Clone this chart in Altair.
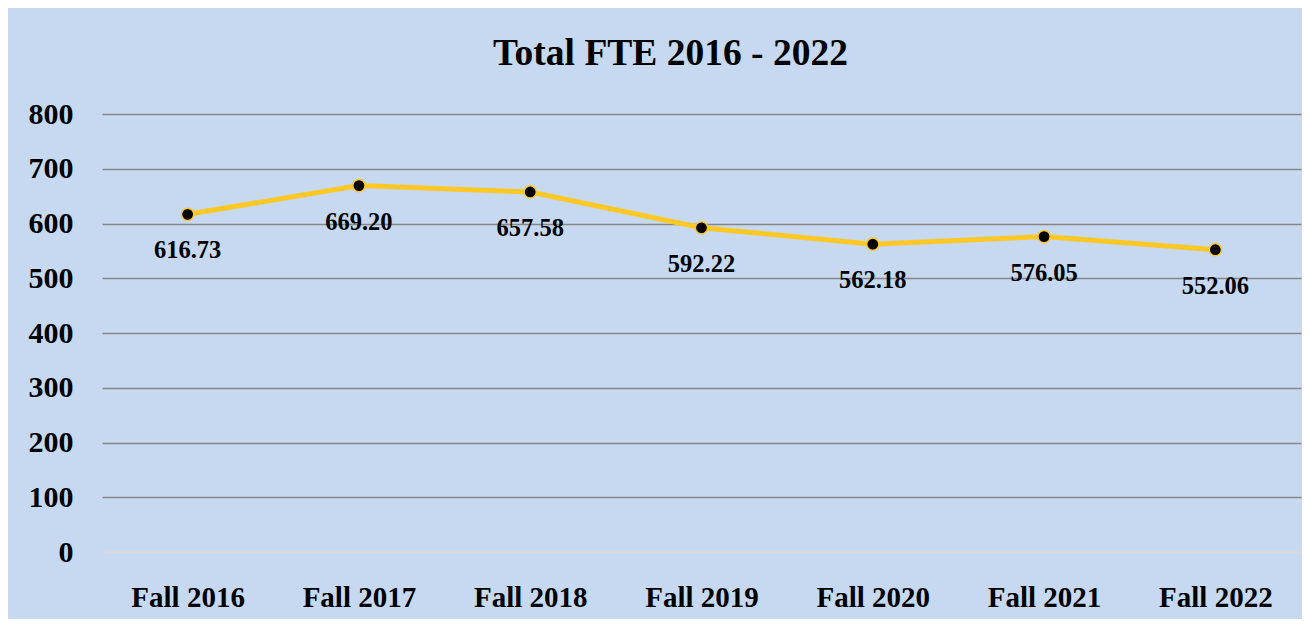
import altair as alt
import pandas as pd

categories = ["Fall 2016", "Fall 2017", "Fall 2018", "Fall 2019", "Fall 2020", "Fall 2021", "Fall 2022"]
values = [616.73, 669.20, 657.58, 592.22, 562.18, 576.05, 552.06]
labels = ["616.73", "669.20", "657.58", "592.22", "562.18", "576.05", "552.06"]
y_ticks = [0, 100, 200, 300, 400, 500, 600, 700, 800]

df = pd.DataFrame({"cat": categories, "val": values, "lab": labels})

FONT = "Liberation Serif"

x = alt.X("cat:N", sort=categories, title=None,
          scale=alt.Scale(paddingInner=0, paddingOuter=0.5),
          axis=alt.Axis(labelAngle=0, labelFont=FONT, labelFontSize=29, labelFontWeight="bold",
                        labelColor="#000000", ticks=False, domain=False, labelPadding=31, grid=False))
y = alt.Y("val:Q", title=None,
          scale=alt.Scale(domain=[0, 800], nice=False),
          axis=alt.Axis(values=y_ticks, labelFont=FONT, labelFontSize=30, labelFontWeight="bold",
                        labelColor="#000000", ticks=False, domain=False, labelPadding=29,
                        gridColor={"condition": {"test": "datum.value === 0", "value": "#D9D9D9"}, "value": "#868686"},
                        gridWidth={"condition": {"test": "datum.value === 0", "value": 2.5}, "value": 1.5}))

base = alt.Chart(df)

line = base.mark_line(color="#FFC825", strokeWidth=5).encode(x=x, y=y)
points = base.mark_point(filled=True, fill="#000000", stroke="#FFC825", strokeWidth=1.5, size=150, opacity=1).encode(x=x, y=y)
text = base.mark_text(dy=37, font=FONT, fontSize=24.5, fontWeight="bold", color="#000000").encode(x=x, y=y, text="lab:N")

chart = alt.layer(line, points, text).properties(
    width=1199, height=438,
    title=alt.TitleParams("Total FTE 2016 - 2022", font=FONT, fontSize=37.5, fontWeight="bold",
                          color="#000000", anchor="middle", dx=-31, offset=27),
    padding={"left": 94, "top": 106, "right": 1, "bottom": 67},
    autosize="none",
    background="#C6D9F1",
).configure_view(stroke=None)

chart.save("out.html", embed_options={"renderer": "svg", "actions": False})
